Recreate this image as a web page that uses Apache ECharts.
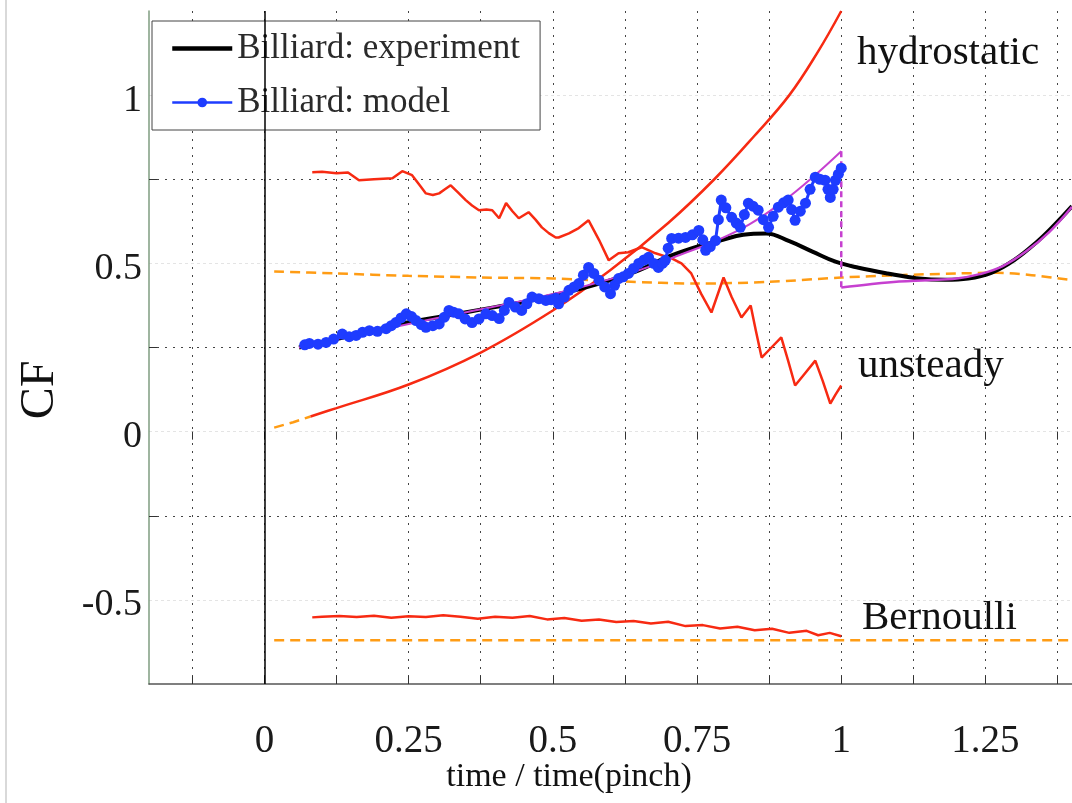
<!DOCTYPE html>
<html>
<head>
<meta charset="utf-8">
<title>CF vs time</title>
<script src="https://cdn.jsdelivr.net/npm/echarts@6.0.0/dist/echarts.min.js"></script>
<style>
  html, body { margin: 0; padding: 0; background: #ffffff; }
  #chart { width: 1072px; height: 803px; }
</style>
</head>
<body>
<div id="chart"></div>
<script>
// Axis ticks and labels
const xTicks = [-0.125, 0, 0.125, 0.25, 0.375, 0.5, 0.625, 0.75, 0.875, 1, 1.125, 1.25, 1.375];
const xLabels = [0, 0.25, 0.5, 0.75, 1, 1.25];
const yTicks = [-0.25, 0.25, 0.75];
const yLabels = [-0.5, 0, 0.5, 1];

// Billiard: experiment (black)
const expT  = [0.06, 0.1, 0.15, 0.2, 0.25, 0.3, 0.35, 0.4, 0.45, 0.5, 0.55, 0.6, 0.65, 0.7, 0.75, 0.79, 0.83, 0.87, 0.91, 0.95, 0.99, 1.03, 1.08, 1.13, 1.18, 1.22, 1.26, 1.3, 1.34, 1.37, 1.4];
const expCF = [0.25, 0.265, 0.285, 0.305, 0.325, 0.34, 0.355, 0.37, 0.385, 0.405, 0.425, 0.45, 0.48, 0.52, 0.55, 0.568, 0.585, 0.589, 0.566, 0.535, 0.505, 0.487, 0.47, 0.456, 0.451, 0.455, 0.472, 0.51, 0.565, 0.615, 0.67];

// Billiard: model (blue, with markers)
const modelT  = [0.07, 0.078, 0.093, 0.107, 0.12, 0.135, 0.147, 0.159, 0.17, 0.182, 0.196, 0.211, 0.22, 0.228, 0.237, 0.246, 0.255, 0.263, 0.272, 0.28, 0.292, 0.303, 0.312, 0.32, 0.328, 0.337, 0.348, 0.36, 0.372, 0.384, 0.395, 0.407, 0.416, 0.424, 0.435, 0.446, 0.455, 0.464, 0.476, 0.488, 0.497, 0.505, 0.51, 0.52, 0.528, 0.537, 0.545, 0.553, 0.562, 0.571, 0.58, 0.59, 0.6, 0.607, 0.614, 0.622, 0.631, 0.64, 0.649, 0.658, 0.666, 0.675, 0.683, 0.69, 0.695, 0.7, 0.706, 0.718, 0.73, 0.742, 0.753, 0.76, 0.765, 0.773, 0.782, 0.787, 0.792, 0.8, 0.81, 0.818, 0.825, 0.832, 0.839, 0.847, 0.856, 0.865, 0.874, 0.882, 0.891, 0.9, 0.908, 0.914, 0.92, 0.929, 0.938, 0.946, 0.955, 0.963, 0.972, 0.977, 0.981, 0.986, 0.99, 0.995, 1.0];
const modelCF = [0.258, 0.262, 0.26, 0.265, 0.275, 0.29, 0.282, 0.286, 0.295, 0.3, 0.298, 0.306, 0.315, 0.324, 0.338, 0.35, 0.342, 0.33, 0.318, 0.31, 0.315, 0.32, 0.34, 0.36, 0.355, 0.35, 0.335, 0.324, 0.335, 0.35, 0.345, 0.336, 0.36, 0.384, 0.37, 0.36, 0.38, 0.4, 0.395, 0.39, 0.392, 0.396, 0.38, 0.4, 0.42, 0.43, 0.44, 0.465, 0.488, 0.47, 0.45, 0.43, 0.41, 0.435, 0.455, 0.46, 0.47, 0.485, 0.5, 0.51, 0.518, 0.5, 0.488, 0.5, 0.509, 0.545, 0.574, 0.575, 0.577, 0.585, 0.598, 0.57, 0.539, 0.55, 0.568, 0.63, 0.688, 0.665, 0.637, 0.62, 0.607, 0.645, 0.679, 0.67, 0.658, 0.63, 0.607, 0.64, 0.667, 0.68, 0.688, 0.66, 0.628, 0.655, 0.679, 0.72, 0.756, 0.75, 0.747, 0.72, 0.696, 0.72, 0.747, 0.765, 0.783];

// Smooth model curve (magenta): before the pinch, the jump at the pinch, after the pinch
const smoothPreT  = [0.06, 0.15, 0.25, 0.35, 0.45, 0.55, 0.65, 0.72, 0.78, 0.84, 0.9, 0.95, 1.0];
const smoothPreCF = [0.25, 0.285, 0.32, 0.355, 0.39, 0.43, 0.48, 0.525, 0.565, 0.615, 0.685, 0.755, 0.833];
const jumpT  = [1.0, 1.0];
const jumpCF = [0.833, 0.428];
const smoothPostT  = [1.0, 1.05, 1.1, 1.15, 1.2, 1.24, 1.28, 1.32, 1.36, 1.4];
const smoothPostCF = [0.428, 0.438, 0.446, 0.45, 0.455, 0.468, 0.492, 0.535, 0.592, 0.668];

// Force components, measured (red)
const hydroT  = [0.08, 0.125, 0.25, 0.375, 0.5, 0.6, 0.7, 0.78, 0.85, 0.91, 0.96, 1.0];
const hydroCF = [0.045, 0.07, 0.14, 0.235, 0.36, 0.48, 0.62, 0.75, 0.88, 1.0, 1.13, 1.25];

const unsteadyT  = [0.083, 0.1, 0.125, 0.145, 0.164, 0.19, 0.222, 0.239, 0.256, 0.268, 0.28, 0.292, 0.303, 0.313, 0.323, 0.336, 0.349, 0.36, 0.372, 0.385, 0.395, 0.407, 0.419, 0.43, 0.441, 0.458, 0.47, 0.481, 0.493, 0.505, 0.51, 0.528, 0.545, 0.562, 0.58, 0.597, 0.614, 0.631, 0.654, 0.678, 0.706, 0.723, 0.74, 0.757, 0.775, 0.796, 0.81, 0.827, 0.843, 0.852, 0.862, 0.879, 0.896, 0.908, 0.92, 0.938, 0.955, 0.968, 0.981, 0.99, 1.0];
const unsteadyCF = [0.771, 0.772, 0.768, 0.77, 0.747, 0.75, 0.753, 0.774, 0.762, 0.735, 0.708, 0.703, 0.708, 0.72, 0.732, 0.71, 0.688, 0.672, 0.658, 0.66, 0.658, 0.634, 0.679, 0.655, 0.634, 0.652, 0.63, 0.607, 0.59, 0.577, 0.577, 0.589, 0.605, 0.628, 0.57, 0.509, 0.53, 0.533, 0.548, 0.53, 0.515, 0.5, 0.47, 0.41, 0.354, 0.458, 0.4, 0.339, 0.375, 0.3, 0.22, 0.25, 0.28, 0.21, 0.137, 0.175, 0.211, 0.15, 0.083, 0.11, 0.137];

const bernoulliT  = [0.083, 0.1, 0.13, 0.16, 0.19, 0.22, 0.25, 0.28, 0.31, 0.34, 0.37, 0.4, 0.43, 0.46, 0.49, 0.52, 0.55, 0.58, 0.61, 0.64, 0.67, 0.7, 0.73, 0.76, 0.79, 0.82, 0.85, 0.88, 0.91, 0.94, 0.96, 0.98, 1.0];
const bernoulliCF = [-0.552, -0.55, -0.548, -0.551, -0.547, -0.553, -0.549, -0.551, -0.546, -0.55, -0.556, -0.55, -0.553, -0.548, -0.558, -0.554, -0.562, -0.558, -0.566, -0.563, -0.57, -0.565, -0.578, -0.575, -0.585, -0.58, -0.59, -0.586, -0.598, -0.592, -0.605, -0.598, -0.608];

// Force components, predicted (orange dashed)
const hydroModelT  = [0.017, 0.05, 0.08];
const hydroModelCF = [0.012, 0.028, 0.045];
const unsteadyModelT  = [0.017, 0.125, 0.25, 0.375, 0.5, 0.625, 0.75, 0.875, 1.0, 1.1, 1.2, 1.27, 1.33, 1.4];
const unsteadyModelCF = [0.476, 0.47, 0.463, 0.458, 0.455, 0.446, 0.44, 0.445, 0.458, 0.465, 0.47, 0.472, 0.465, 0.45];
const bernoulliModelT  = [0.017, 0.5, 1.0, 1.4];
const bernoulliModelCF = [-0.62, -0.62, -0.62, -0.62];

const pairs = (ts, cs) => ts.map((t, i) => [t, cs[i]]);

const FONT = 'Liberation Serif';
const RED = '#f72a12';
const ORANGE = '#ff9c14';
const BLUE = '#1e3cff';
const MAGENTA = '#c640d0';

const orangeDashed = { color: ORANGE, width: 2.5, type: [10, 6] };

const chart = echarts.init(document.getElementById('chart'), null, { renderer: 'canvas' });

chart.setOption({
  animation: false,
  backgroundColor: '#ffffff',
  grid: { left: 149, top: 11, width: 925, height: 673, containLabel: false },
  xAxis: [
    {
      type: 'value', min: -0.2, max: 1.4, position: 'bottom',
      axisLine: { show: true, onZero: false, lineStyle: { color: '#555', width: 1.5 } },
      axisTick: { show: true, inside: true, length: 8, customValues: xTicks, lineStyle: { color: '#333' } },
      axisLabel: { customValues: xLabels, fontFamily: FONT, fontSize: 39, color: '#1a1a1a', margin: 38 },
      splitLine: { show: true, lineStyle: { color: '#444', width: 1, type: [2, 6] } }
    },
    {
      type: 'value', min: -0.2, max: 1.4, position: 'top',
      axisLine: { show: false },
      axisTick: { show: true, inside: true, length: 8, customValues: xTicks, lineStyle: { color: '#333' } },
      axisLabel: { show: false },
      splitLine: { show: false }
    }
  ],
  yAxis: [
    {
      type: 'value', min: -0.75, max: 1.25, position: 'left',
      axisLine: { show: true, onZero: false, lineStyle: { color: '#7f9d80', width: 1.5 } },
      axisTick: { show: true, inside: true, length: 8, customValues: yTicks, lineStyle: { color: '#333' } },
      axisLabel: {
        customValues: yLabels, margin: 7,
        formatter: v => '{v|' + v + '}',
        rich: { v: { fontFamily: FONT, fontSize: 38, color: '#1a1a1a', padding: [11, 0, 0, 0] } }
      },
      splitLine: { show: true, lineStyle: { color: '#444', width: 1, type: [2, 6] } }
    },
    {
      type: 'value', min: -0.75, max: 1.25, position: 'left',
      axisLine: { show: false },
      axisTick: { show: false, customValues: yLabels },
      axisLabel: { show: false },
      splitLine: { show: true, lineStyle: { color: '#e4e4e4', width: 1, type: [3, 3] } }
    }
  ],
  legend: {
    left: 152, top: 21, orient: 'vertical',
    itemWidth: 60, itemHeight: 12, itemGap: 19,
    padding: [10, 20, 10, 18],
    backgroundColor: '#ffffff', borderColor: '#444', borderWidth: 1,
    textStyle: { fontFamily: FONT, fontSize: 35, color: '#2a2a2a' },
    data: [
      { name: 'Billiard: experiment', itemStyle: { opacity: 0 }, lineStyle: { color: '#000', width: 4.5 } },
      { name: 'Billiard: model', lineStyle: { color: BLUE, width: 2.5 } }
    ]
  },
  series: [
    { name: 'hydrostatic model', type: 'line', data: pairs(hydroModelT, hydroModelCF), symbol: 'none', lineStyle: orangeDashed },
    { name: 'unsteady model', type: 'line', data: pairs(unsteadyModelT, unsteadyModelCF), symbol: 'none', smooth: 0.3, lineStyle: orangeDashed },
    { name: 'Bernoulli model', type: 'line', data: pairs(bernoulliModelT, bernoulliModelCF), symbol: 'none', lineStyle: orangeDashed },
    { name: 'hydrostatic', type: 'line', data: pairs(hydroT, hydroCF), symbol: 'none', smooth: 0.4, lineStyle: { color: RED, width: 2.5 } },
    { name: 'unsteady', type: 'line', data: pairs(unsteadyT, unsteadyCF), symbol: 'none', lineStyle: { color: RED, width: 2.5 } },
    { name: 'Bernoulli', type: 'line', data: pairs(bernoulliT, bernoulliCF), symbol: 'none', lineStyle: { color: RED, width: 2.5 } },
    {
      name: 'Billiard: experiment', type: 'line', data: pairs(expT, expCF), symbol: 'none', smooth: 0.4,
      color: '#000', lineStyle: { color: '#000', width: 4 },
      markLine: {
        silent: true, symbol: 'none', label: { show: false },
        lineStyle: { color: '#000', width: 1.5, type: 'solid' },
        data: [{ xAxis: 0 }]
      }
    },
    { name: 'smooth pre', type: 'line', data: pairs(smoothPreT, smoothPreCF), symbol: 'none', smooth: 0.4, lineStyle: { color: MAGENTA, width: 2 } },
    { name: 'smooth jump', type: 'line', data: pairs(jumpT, jumpCF), symbol: 'none', lineStyle: { color: MAGENTA, width: 2.5, type: [6, 4] } },
    { name: 'smooth post', type: 'line', data: pairs(smoothPostT, smoothPostCF), symbol: 'none', smooth: 0.4, lineStyle: { color: MAGENTA, width: 2.5 } },
    {
      name: 'Billiard: model', type: 'line', data: pairs(modelT, modelCF),
      symbol: 'circle', symbolSize: 11, showSymbol: true,
      color: BLUE, itemStyle: { color: BLUE, borderWidth: 0 },
      lineStyle: { color: BLUE, width: 3 }
    }
  ],
  graphic: [
    { type: 'line', shape: { x1: 6, y1: 0, x2: 6, y2: 803 }, style: { stroke: '#d9d9d9', lineWidth: 2 }, silent: true },
    { type: 'text', x: 857, y: 53, style: { text: 'hydrostatic', font: '41px "Liberation Serif"', fill: '#111', verticalAlign: 'middle' }, z: 10 },
    { type: 'text', x: 858, y: 366, style: { text: 'unsteady', font: '41px "Liberation Serif"', fill: '#111', verticalAlign: 'middle' }, z: 10 },
    { type: 'text', x: 862, y: 618, style: { text: 'Bernoulli', font: '41px "Liberation Serif"', fill: '#111', verticalAlign: 'middle' }, z: 10 },
    { type: 'text', x: 569, y: 777, style: { text: 'time / time(pinch)', font: '34px "Liberation Serif"', fill: '#111', align: 'center', verticalAlign: 'middle' } },
    { type: 'text', x: 40, y: 390, rotation: Math.PI / 2, style: { text: 'CF', font: '48px "Liberation Serif"', fill: '#111', align: 'center', verticalAlign: 'middle' } }
  ]
});
</script>
</body>
</html>
